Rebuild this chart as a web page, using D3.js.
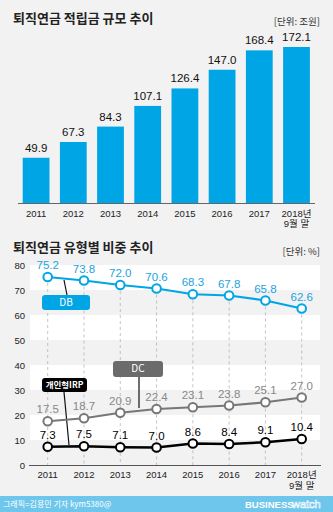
<!DOCTYPE html>
<html><head><meta charset="utf-8">
<script src="https://cdn.jsdelivr.net/npm/d3@7/dist/d3.min.js"></script>
<style>
html,body{margin:0;padding:0;background:#f2f2f2;}
svg{display:block;font-family:"Liberation Sans","Noto Sans CJK KR",sans-serif;}
</style></head>
<body><svg id="c" width="333" height="512"></svg>
<script>
const years = ["2011","2012","2013","2014","2015","2016","2017","2018"];
const yearLabels = [["2011"],["2012"],["2013"],["2014"],["2015"],["2016"],["2017"],["2018년","9월 말"]];
const reserves = [49.9, 67.3, 84.3, 107.1, 126.4, 147.0, 168.4, 172.1];
const dbShare = [75.2, 73.8, 72.0, 70.6, 68.3, 67.8, 65.8, 62.6];
const dcShare = [17.5, 18.7, 20.9, 22.4, 23.1, 23.8, 25.1, 27.0];
const irpShare = [7.3, 7.5, 7.1, 7.0, 8.6, 8.4, 9.1, 10.4];
const yTicks = [0,10,20,30,40,50,60,70,80];

const svg = d3.select("#c");
const KR = "'Noto Sans CJK KR',sans-serif";
const BLUE = "#00a5e6";

// titles
svg.append("text").attr("x",13).attr("y",23).attr("font-family",KR).attr("font-weight","bold")
  .attr("font-size",13).attr("fill","#222").text("퇴직연금 적립금 규모 추이");
svg.append("text").attr("x",320).attr("y",25).attr("text-anchor","end").attr("font-family",KR)
  .attr("font-size",9.5).attr("fill","#333").text("[단위: 조원]");

// bar chart
const xb = d3.scaleBand().domain(years).range([17.5,315.1]).paddingInner(0.28).paddingOuter(0.14);
const yb = d3.scaleLinear().domain([0,172.1]).range([203,47]);
const g1 = svg.append("g");
g1.selectAll("rect").data(reserves).join("rect")
  .attr("x",(d,i)=>xb(years[i])).attr("width",xb.bandwidth())
  .attr("y",d=>yb(d)).attr("height",d=>yb(0)-yb(d)).attr("fill",BLUE);
g1.selectAll("text.v").data(reserves).join("text").attr("class","v")
  .attr("x",(d,i)=>xb(years[i])+xb.bandwidth()/2).attr("y",d=>yb(d)-6)
  .attr("text-anchor","middle").attr("font-size",11.5).attr("fill","#111").text(d=>d.toFixed(1));
g1.append("line").attr("x1",18).attr("x2",315).attr("y1",yb(0)+0.5).attr("y2",yb(0)+0.5)
  .attr("stroke","#666").attr("stroke-width",1);
yearLabels.forEach((lines,i)=>{
  const t = g1.append("text").attr("x",xb(years[i])+xb.bandwidth()/2).attr("y",217)
    .attr("text-anchor","middle").attr("font-size",9.5).attr("fill","#222");
  lines.forEach((l,j)=>t.append("tspan").attr("x",xb(years[i])+xb.bandwidth()/2).attr("dy",j?10:0).text(l));
});

// second title
svg.append("text").attr("x",13).attr("y",252).attr("font-family",KR).attr("font-weight","bold")
  .attr("font-size",13).attr("fill","#222").text("퇴직연금 유형별 비중 추이");
svg.append("text").attr("x",320).attr("y",255).attr("text-anchor","end").attr("font-family",KR)
  .attr("font-size",9.5).attr("fill","#333").text("[단위: %]");

// line chart
const xl = d3.scalePoint().domain(years).range([47.7,301.7]);
const yl = d3.scaleLinear().domain([0,80]).range([465,265]);
const g2 = svg.append("g");
[[70,80],[50,60],[30,40],[10,20]].forEach(b=>{
  g2.append("rect").attr("x",30).attr("width",290).attr("y",yl(b[1])).attr("height",yl(b[0])-yl(b[1])).attr("fill","#fff");
});
g2.selectAll("text.yt").data(yTicks).join("text").attr("class","yt")
  .attr("x",25).attr("y",d=>yl(d)+3.5).attr("text-anchor","end").attr("font-size",9.5).attr("fill","#222").text(d=>d);
// dashed verticals
g2.selectAll("line.dv").data(years).join("line").attr("class","dv")
  .attr("x1",d=>xl(d)).attr("x2",d=>xl(d)).attr("y1",(d,i)=>yl(dbShare[i])).attr("y2",yl(0))
  .attr("stroke","#b5b5b5").attr("stroke-width",0.8).attr("stroke-dasharray","3,3");
g2.append("line").attr("x1",29).attr("x2",321).attr("y1",yl(0)+0.5).attr("y2",yl(0)+0.5).attr("stroke","#555");

// legend boxes with pointers (drawn under lines)
function legend(x,y,w,h,fill,label,px1,py1,px2,py2,bold,fs){
  g2.append("line").attr("x1",px1).attr("y1",py1).attr("x2",px2).attr("y2",py2).attr("stroke","#111").attr("stroke-width",1.2);
  g2.append("rect").attr("x",x).attr("y",y).attr("width",w).attr("height",h).attr("rx",3).attr("fill",fill);
  g2.append("text").attr("x",x+w/2).attr("y",y+h/2+3.3).attr("text-anchor","middle").attr("font-family",KR)
    .attr("font-size",fs).attr("font-weight",bold?"bold":"normal").attr("fill","#fff").text(label);
}
legend(42,295,48,15,BLUE,"DB",64,280,67,295,false,10);
legend(113,361,50,16,"#6b6b6b","DC",139,377,139,408,false,10);
legend(42,378,45,14,"#000","개인형IRP",64,392,69,445,true,8.5);

const line = d3.line().x((d,i)=>xl(years[i])).y(d=>yl(d));
function series(data,color,labelColor,sw){
  g2.append("path").datum(data).attr("d",line).attr("fill","none").attr("stroke",color).attr("stroke-width",sw);
  g2.selectAll(null).data(data).join("circle").attr("cx",(d,i)=>xl(years[i])).attr("cy",d=>yl(d))
    .attr("r",4.3).attr("fill","#fff").attr("stroke",color).attr("stroke-width",2);
  g2.selectAll(null).data(data).join("text").attr("x",(d,i)=>xl(years[i])).attr("y",d=>yl(d)-8)
    .attr("text-anchor","middle").attr("font-size",11.5).attr("fill",labelColor).text(d=>d.toFixed(1));
}
series(dbShare,BLUE,"#1aa3e0",2.2);
series(dcShare,"#777","#888",2.2);
series(irpShare,"#000","#000",2.4);

yearLabels.forEach((lines,i)=>{
  const t = g2.append("text").attr("y",478).attr("text-anchor","middle").attr("font-size",9.5).attr("fill","#222");
  lines.forEach((l,j)=>t.append("tspan").attr("x",xl(years[i])).attr("dy",j?10.5:0).text(l));
});

// footer
svg.append("rect").attr("x",0).attr("y",496).attr("width",333).attr("height",16).attr("fill","#6ec6ec");
svg.append("text").attr("x",3).attr("y",507).attr("font-family",KR).attr("font-size",8).attr("fill","#fff").text("그래픽=김용민 기자 kym5380@");
svg.append("text").attr("x",245).attr("y",508).attr("font-size",9.5).attr("font-weight","bold").attr("fill","#fff").text("BUSINESS");
svg.append("text").attr("x",292).attr("y",508).attr("font-size",11).attr("fill","none").attr("stroke","#fff").attr("stroke-width",0.6).text("watch");
</script></body></html>
